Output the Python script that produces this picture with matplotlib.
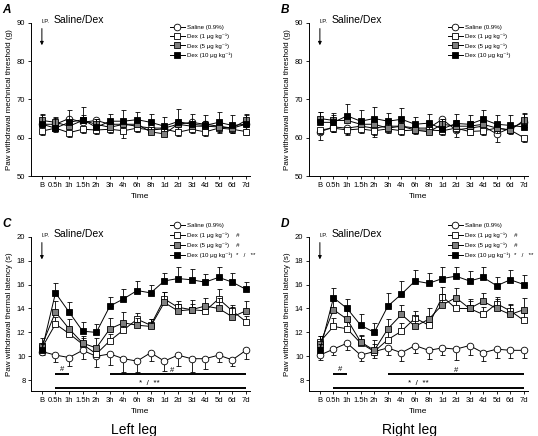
import matplotlib
matplotlib.use("Agg")
import matplotlib.pyplot as plt
from matplotlib.lines import Line2D
import numpy as np

plt.rcParams['font.family'] = ['Liberation Sans', 'DejaVu Sans']

time_labels = ["B", "0.5h", "1h", "1.5h", "2h", "3h", "4h", "6h", "8h",
               "1d", "2d", "3d", "4d", "5d", "6d", "7d"]

# Panel A: left leg mechanical threshold (g)
A_saline = [63.5, 63.5, 65.0, 64.0, 64.5, 63.5, 63.5, 63.0, 62.5, 62.5, 63.5, 64.0, 63.5, 63.0, 62.5, 63.5]
A_dex1   = [61.7, 62.5, 61.3, 62.2, 62.0, 62.2, 61.8, 62.5, 62.0, 62.3, 61.4, 62.2, 61.5, 62.5, 62.2, 61.6]
A_dex5   = [64.5, 64.0, 63.0, 64.5, 63.5, 62.7, 63.5, 63.5, 61.5, 61.0, 63.5, 63.0, 63.0, 62.8, 62.5, 64.5]
A_dex10  = [63.5, 62.5, 64.0, 64.7, 62.7, 64.3, 64.3, 64.7, 64.0, 63.0, 64.2, 63.5, 63.2, 64.0, 63.2, 63.5]
A_saline_err = [1.5, 1.2, 1.5, 1.3, 1.2, 1.2, 1.5, 1.2, 1.3, 1.5, 1.4, 1.2, 1.3, 1.5, 1.3, 1.2]
A_dex1_err   = [1.0, 1.0, 1.2, 1.0, 1.0, 1.0, 1.8, 1.0, 1.0, 1.2, 1.0, 1.0, 1.0, 1.2, 1.0, 1.0]
A_dex5_err   = [1.5, 1.2, 1.5, 1.5, 1.3, 1.2, 1.5, 1.5, 1.3, 1.3, 1.5, 1.3, 1.3, 1.5, 1.2, 1.5]
A_dex10_err  = [2.7, 3.0, 3.2, 3.4, 2.3, 2.0, 2.8, 1.9, 2.1, 2.5, 3.4, 2.7, 2.8, 2.6, 2.7, 2.6]

# Panel B: right leg mechanical threshold (g)
B_saline = [61.5, 62.8, 62.5, 63.0, 62.5, 63.0, 63.0, 62.5, 62.5, 64.8, 62.0, 62.5, 63.0, 61.0, 62.5, 64.0]
B_dex1   = [62.0, 62.5, 62.0, 62.3, 61.8, 62.3, 61.8, 62.0, 62.0, 61.8, 62.5, 61.6, 61.8, 62.5, 62.0, 60.0]
B_dex5   = [65.0, 64.5, 64.5, 63.5, 63.5, 62.5, 63.0, 62.0, 61.5, 63.5, 63.0, 63.0, 63.5, 62.5, 62.0, 64.5]
B_dex10  = [64.0, 64.0, 65.7, 64.3, 65.0, 64.3, 64.8, 63.5, 63.8, 62.3, 63.7, 63.5, 64.8, 63.5, 63.2, 62.8]
B_saline_err = [2.0, 1.2, 1.5, 1.3, 1.8, 1.2, 1.5, 1.2, 1.3, 1.0, 1.8, 1.2, 1.3, 2.0, 1.3, 1.2]
B_dex1_err   = [1.0, 1.0, 1.2, 1.0, 1.5, 1.0, 1.2, 1.0, 1.0, 1.2, 1.0, 1.0, 1.2, 1.2, 1.0, 1.0]
B_dex5_err   = [1.8, 1.5, 1.5, 1.5, 1.5, 1.2, 1.5, 1.2, 1.3, 1.5, 1.5, 1.3, 1.3, 1.5, 1.2, 1.8]
B_dex10_err  = [2.8, 2.5, 3.0, 3.0, 3.0, 2.2, 3.0, 1.9, 2.4, 2.7, 2.5, 2.5, 2.5, 2.5, 2.8, 3.7]

# Panel C: left leg thermal latency (s)
C_saline = [10.4, 10.1, 9.9, 10.5, 10.0, 10.2, 9.8, 9.6, 10.3, 9.6, 10.1, 9.8, 9.8, 10.1, 9.7, 10.5]
C_dex1   = [10.7, 12.7, 11.9, 11.0, 10.2, 11.3, 12.2, 13.1, 12.6, 14.8, 14.1, 13.9, 13.8, 14.8, 13.8, 12.9]
C_dex5   = [10.9, 13.7, 12.3, 11.1, 10.7, 12.3, 12.8, 12.6, 12.5, 14.5, 13.8, 13.9, 14.2, 14.0, 13.3, 13.8]
C_dex10  = [10.5, 15.3, 13.7, 12.1, 12.0, 14.2, 14.8, 15.5, 15.3, 16.3, 16.5, 16.4, 16.2, 16.6, 16.2, 15.6]
C_saline_err = [0.3, 0.6, 0.7, 0.7, 0.9, 0.9, 1.1, 0.9, 0.7, 0.8, 0.9, 1.1, 0.9, 0.6, 0.5, 0.7]
C_dex1_err   = [0.4, 0.6, 0.5, 0.5, 0.5, 0.6, 0.6, 0.5, 0.5, 0.6, 0.5, 0.5, 0.6, 0.8, 0.5, 0.5]
C_dex5_err   = [0.6, 0.9, 0.8, 0.6, 0.8, 0.9, 0.9, 0.6, 0.6, 0.9, 0.6, 0.8, 0.7, 0.9, 0.8, 0.8]
C_dex10_err  = [0.5, 0.8, 0.8, 0.8, 0.7, 0.8, 0.8, 0.8, 0.7, 0.7, 1.0, 0.9, 0.7, 0.9, 0.8, 0.6]

# Panel D: right leg thermal latency (s)
D_saline = [10.1, 10.6, 11.1, 10.1, 10.4, 10.7, 10.3, 10.9, 10.5, 10.7, 10.6, 10.9, 10.3, 10.6, 10.5, 10.5]
D_dex1   = [11.2, 12.5, 12.3, 11.1, 10.4, 11.4, 12.1, 13.2, 12.6, 15.0, 14.0, 14.0, 13.5, 14.4, 13.8, 13.0]
D_dex5   = [11.0, 13.9, 13.1, 11.2, 10.5, 12.3, 13.5, 12.5, 13.1, 14.3, 14.9, 14.0, 14.6, 14.0, 13.5, 13.9]
D_dex10  = [10.5, 14.9, 14.0, 12.6, 12.0, 14.2, 15.2, 16.3, 16.1, 16.5, 16.7, 16.3, 16.6, 15.9, 16.4, 16.0]
D_saline_err = [0.4, 0.5, 0.6, 0.5, 0.5, 0.6, 0.7, 0.6, 0.7, 0.6, 0.9, 0.8, 0.7, 0.7, 0.6, 0.6]
D_dex1_err   = [0.5, 0.7, 0.6, 0.6, 0.6, 0.7, 0.7, 0.6, 0.6, 0.8, 0.6, 0.6, 0.6, 0.6, 0.6, 0.6]
D_dex5_err   = [0.7, 0.7, 0.7, 0.6, 0.9, 0.8, 0.8, 0.9, 0.9, 0.9, 0.8, 0.8, 0.7, 0.8, 0.8, 1.0]
D_dex10_err  = [0.5, 0.8, 0.8, 0.9, 0.8, 1.1, 1.1, 0.9, 0.9, 1.0, 0.8, 0.8, 0.9, 0.7, 0.8, 0.8]

legend_labels = ["Saline (0.9%)", "Dex (1 \u03bcg kg\u207b\u00b9)", "Dex (5 \u03bcg kg\u207b\u00b9)",
                 "Dex (10 \u03bcg kg\u207b\u00b9)"]
legend_marks_CD = ["", "    #", "    #", "  *   /   **"]

styles = [dict(marker="o", mfc="white"), dict(marker="s", mfc="white"),
          dict(marker="s", mfc="#7f7f7f"), dict(marker="s", mfc="black")]

W, H = 538, 436
fig = plt.figure(figsize=(W / 100, H / 100), dpi=100)

def px_axes(left, top, right, bottom):
    return fig.add_axes([left / W, 1 - bottom / H, (right - left) / W, (bottom - top) / H])

x = np.arange(len(time_labels))

panels = [
    ("A", px_axes(31, 22.7, 250, 176), [A_saline, A_dex1, A_dex5, A_dex10],
     [A_saline_err, A_dex1_err, A_dex5_err, A_dex10_err], ["down", "down", "up", "up"],
     (50, 90), [50, 60, 70, 80, 90], "Paw withdrawal mechnical threshold (g)", 0.985, 0.6),
    ("B", px_axes(309, 22.7, 528, 176), [B_saline, B_dex1, B_dex5, B_dex10],
     [B_saline_err, B_dex1_err, B_dex5_err, B_dex10_err], ["down", "down", "up", "up"],
     (50, 90), [50, 60, 70, 80, 90], "Paw withdrawal mechnical threshold (g)", 0.985, 0.6),
    ("C", px_axes(31, 236.7, 250, 391), [C_saline, C_dex1, C_dex5, C_dex10],
     [C_saline_err, C_dex1_err, C_dex5_err, C_dex10_err], ["down", "up", "up", "up"],
     (7.1, 20), [8, 10, 12, 14, 16, 18, 20], "Paw withdrawal thermal latency (s)", 1.09, 0.72),
    ("D", px_axes(309, 236.7, 528, 391), [D_saline, D_dex1, D_dex5, D_dex10],
     [D_saline_err, D_dex1_err, D_dex5_err, D_dex10_err], ["down", "up", "up", "up"],
     (7.1, 20), [8, 10, 12, 14, 16, 18, 20], "Paw withdrawal thermal latency (s)", 1.09, 0.72),
]

for name, ax, series, errs, dirs, ylim, yticks, ylabel, legy, lspace in panels:
    for i, (vals, err, d, st) in enumerate(zip(series, errs, dirs, styles)):
        err = np.array(err)
        yerr = [np.zeros_like(err), err] if d == "up" else [err, np.zeros_like(err)]
        ax.errorbar(x, vals, yerr=yerr, fmt="none", ecolor="black", elinewidth=0.6,
                    capsize=1.8, capthick=0.6, zorder=2 + i)
        ax.plot(x, vals, color="black", lw=0.7, marker=st["marker"], mfc=st["mfc"],
                mec="black", mew=0.6, ms=4.8, zorder=3 + i)
    ax.set_xlim(-0.8, 15.3)
    ax.set_ylim(*ylim)
    ax.set_yticks(yticks)
    ax.set_xticks(x)
    ax.set_xticklabels(time_labels)
    ax.tick_params(labelsize=5.5, length=2, width=0.6, pad=2)
    for s in ["top", "right"]:
        ax.spines[s].set_visible(False)
    for s in ["left", "bottom"]:
        ax.spines[s].set_linewidth(0.7)
    ax.set_ylabel(ylabel, fontsize=5.8, labelpad=3)
    ax.set_xlabel("Time", fontsize=6, labelpad=3)
    ax.text(-0.13, 1.12, name, transform=ax.transAxes, fontsize=8.5, fontweight="bold",
            style="italic", va="top", ha="left")
    # I.P. Saline/Dex annotation
    ytop = ylim[1]
    span = ylim[1] - ylim[0]
    ax.annotate("", xy=(0, ytop - 0.165 * span), xytext=(0, ytop - 0.02 * span),
                arrowprops=dict(arrowstyle="-|>", color="black", lw=0.7,
                                mutation_scale=5))
    ax.text(0.0, ytop - 0.01 * span, "I.P.", fontsize=4.2, ha="left", va="bottom")
    ax.text(0.85, ytop - 0.015 * span, "Saline/Dex", fontsize=7.5, ha="left", va="bottom")
    # legend
    handles = [Line2D([], [], color="black", lw=0.7, marker=st["marker"], mfc=st["mfc"],
                      mec="black", mew=0.6, ms=4.8) for st in styles]
    if name in ("C", "D"):
        labels = [l + m for l, m in zip(legend_labels, legend_marks_CD)]
    else:
        labels = legend_labels
    ax.legend(handles, labels, loc="upper left", bbox_to_anchor=(0.635, legy),
              frameon=False, fontsize=4.4, handlelength=2.4, handletextpad=0.3,
              labelspacing=lspace, borderaxespad=0, borderpad=0)

# significance bars in panels C and D
sig_C = dict(short=(1, 2, 8.55, 1.5), long=(5, 15, 8.55, 9.6), all=(1, 15, 7.35, 7.9))
sig_D = dict(short=(1, 2, 8.55, 1.5), long=(5, 15, 8.55, 10.0), all=(1, 15, 7.35, 7.2))
for (name, ax, *_), sig in zip(panels[2:], [sig_C, sig_D]):
    x0, x1, yb, tx = sig["short"]
    ax.plot([x0, x1], [yb, yb], color="black", lw=1.4, solid_capstyle="butt")
    ax.text(tx, yb + 0.05, "#", fontsize=5.5, ha="center", va="bottom")
    x0, x1, yb, tx = sig["long"]
    ax.plot([x0, x1], [yb, yb], color="black", lw=1.4, solid_capstyle="butt")
    ax.text(tx, yb - 0.05, "#", fontsize=5.5, ha="center", va="bottom")
    x0, x1, yb, tx = sig["all"]
    ax.plot([x0, x1], [yb, yb], color="black", lw=1.4, solid_capstyle="butt", clip_on=False)
    ax.text(tx, yb + 0.1, "*  /  **", fontsize=5.8, ha="center", va="bottom")

fig.text(134 / W, 1 - 430 / H, "Left leg", fontsize=10, ha="center", va="center")
fig.text(410 / W, 1 - 430 / H, "Right leg", fontsize=10, ha="center", va="center")

fig.savefig("out.png", dpi=100)
